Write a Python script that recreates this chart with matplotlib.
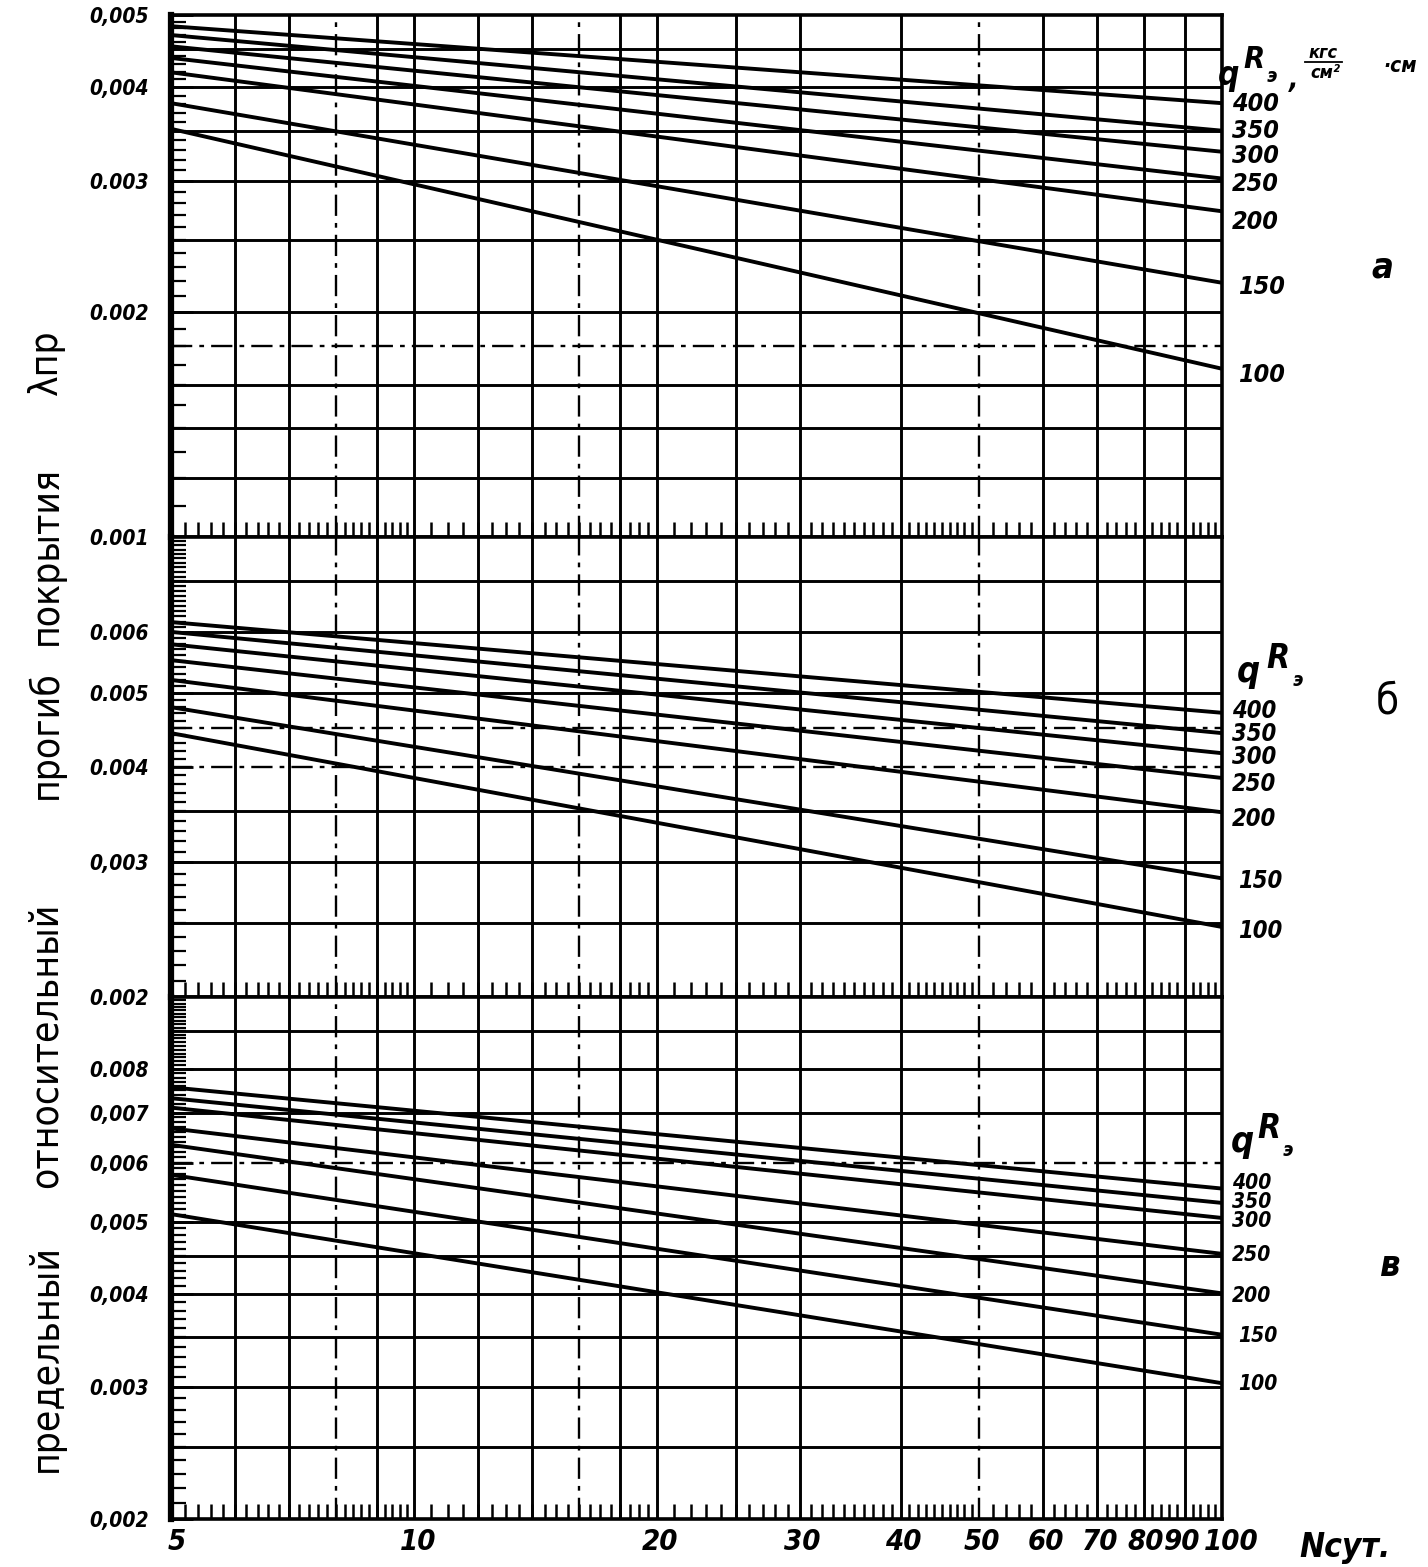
import os
import matplotlib
matplotlib.use('Agg')
import matplotlib.pyplot as plt
import matplotlib.font_manager as fm
import matplotlib.transforms as mtransforms
import numpy as np
from matplotlib.ticker import FixedLocator, NullFormatter

plt.rcParams['font.family'] = ['DejaVu Sans']

# ---------------- data ----------------
N_ends = [5, 100]                      # N сут. (x range of each line)
qR = [100, 150, 200, 250, 300, 350, 400]

# panel а : λпр at N=5 and N=100
lam_a_5   = [0.00352, 0.00381, 0.00419, 0.00438, 0.00454, 0.00470, 0.00483]
lam_a_100 = [0.00168, 0.00219, 0.00273, 0.00302, 0.00328, 0.00350, 0.00381]
# panel б
lam_b_5   = [0.00443, 0.00479, 0.00520, 0.00552, 0.00579, 0.00601, 0.00619]
lam_b_100 = [0.00247, 0.00286, 0.00349, 0.00387, 0.00417, 0.00443, 0.00471]
# panel в
lam_c_5   = [0.00512, 0.00578, 0.00634, 0.00667, 0.00711, 0.00732, 0.00757]
lam_c_100 = [0.00304, 0.00353, 0.00401, 0.00453, 0.00506, 0.00530, 0.00554]

# pixel y of the right-hand qR labels (reference positions)
lab_y_a = [375, 287, 222, 184, 156, 131, 104]
lab_y_b = [931, 881, 819, 784, 757, 734, 711]
lab_y_c = [1384, 1336, 1296, 1255, 1221, 1202, 1183]

x_tick_vals = [5, 10, 20, 30, 40, 50, 60, 70, 80, 90, 100]
x_tick_labels = ['5', '10', '20', '30', '40', '50', '60', '70', '80', '90', '100']
x_label_nudge = [6, 4, 3, 3, 3, 3, 3, 3, 2, -3, 9]      # pixels, as lettered in the original
x_grid = [6, 7, 8, 9, 10, 12, 14, 16, 18, 20, 25, 30, 40, 50, 60, 70, 80, 90]
x_grid_dashed = [8, 16, 50]

ylim_a = (0.001, 0.005)
ylim_b = (0.002, 0.008)
ylim_c = (0.002, 0.010)

y_ticks_a = [0.001, 0.002, 0.003, 0.004, 0.005]
y_labels_a = ['0.001', '0.002', '0.003', '0,004', '0,005']
y_ticks_b = [0.002, 0.003, 0.004, 0.005, 0.006]
y_labels_b = ['0.002', '0,003', '0.004', '0.005', '0.006']
y_ticks_c = [0.002, 0.003, 0.004, 0.005, 0.006, 0.007, 0.008]
y_labels_c = ['0,002', '0.003', '0,004', '0,005', '0,006', '0,007', '0.008']

y_grid_a = [0.0012, 0.0014, 0.0016, 0.0018, 0.002, 0.0025, 0.003, 0.0035, 0.004, 0.0045]
y_grid_a_dashed = [0.0018]
y_grid_b = [0.0025, 0.003, 0.0035, 0.004, 0.0045, 0.005, 0.006, 0.007]
y_grid_b_dashed = [0.004, 0.0045]
y_grid_c = [0.0025, 0.003, 0.0035, 0.004, 0.0045, 0.005, 0.006, 0.007, 0.008, 0.009]
y_grid_c_dashed = [0.006]

panel_letters = ['а', 'б', 'в']

# ---------------- fonts (prefer a condensed face, like the hand lettering) ----------------
_files = {}
for f in fm.fontManager.ttflist:
    _files.setdefault(os.path.basename(f.fname), f.fname)


def find_font(cands, subs):
    for c in cands:
        if c in _files:
            return _files[c]
    for name, path in sorted(_files.items()):
        low = name.lower()
        if all(s in low for s in subs[0]) and any(s in low for s in subs[1]):
            return path
    return None


bi_path = find_font(['LiberationSansNarrow-BoldItalic.ttf', 'NotoSans-CondensedBoldItalic.ttf',
                     'DejaVuSansCondensed-BoldOblique.ttf', 'RobotoCondensed-BoldItalic.ttf'],
                    (['bold'], ['condensed', 'narrow']))
rg_path = find_font(['LiberationSansNarrow-Regular.ttf', 'NotoSans-Condensed.ttf',
                     'DejaVuSansCondensed.ttf', 'RobotoCondensed-Regular.ttf'],
                    ([], ['condensed', 'narrow']))
COND = bi_path is not None


def FP_bi(size):
    if bi_path:
        return fm.FontProperties(fname=bi_path, size=size)
    return fm.FontProperties(family='DejaVu Sans', weight='bold', style='italic', size=size * 0.8)


def FP_rg(size):
    if rg_path:
        return fm.FontProperties(fname=rg_path, size=size)
    return fm.FontProperties(family='DejaVu Sans', size=size * 0.85)


# ---------------- figure ----------------
W, H = 1428, 1567
fig = plt.figure(figsize=(W / 100, H / 100), dpi=100)

XL, XR = 171, 1222


def px_axes(top, bottom):
    return [XL / W, 1 - bottom / H, (XR - XL) / W, (bottom - top) / H]


def ftxt(x, y, s, fp, **kw):
    fig.text(x / W, 1 - y / H, s, fontproperties=fp, **kw)


x_minor = list(np.arange(5, 10, 0.2)) + list(np.arange(10, 20, 0.5)) + \
    list(np.arange(20, 50, 1.0)) + list(np.arange(50, 100.01, 2.0))

LW = 2.8
GW = 2.1
dash = (0, (9, 3, 2, 3))

panels = [
    (15, 537, ylim_a, lam_a_5, lam_a_100, y_ticks_a, y_labels_a, y_grid_a, y_grid_a_dashed, lab_y_a, 18),
    (537, 997, ylim_b, lam_b_5, lam_b_100, y_ticks_b, y_labels_b, y_grid_b, y_grid_b_dashed, lab_y_b, 17),
    (997, 1519, ylim_c, lam_c_5, lam_c_100, y_ticks_c, y_labels_c, y_grid_c, y_grid_c_dashed, lab_y_c, 15),
]

for i, (top, bot, ylim, l5, l100, yt, yl, yg, ygd, laby, lsz) in enumerate(panels):
    ax = fig.add_axes(px_axes(top, bot))
    ax.set_xscale('log')
    ax.set_yscale('log')
    ax.set_xlim(5, 100)
    ax.set_ylim(*ylim)

    for v in x_grid:
        if v in x_grid_dashed:
            ax.axvline(v, color='k', lw=1.7, ls=dash, zorder=1)
        else:
            ax.axvline(v, color='k', lw=GW, zorder=1)
    for h in yg:
        if h in ygd:
            ax.axhline(h, color='k', lw=1.7, ls=dash, zorder=1)
        else:
            ax.axhline(h, color='k', lw=GW, zorder=1)

    for q, a, b, ly in zip(qR, l5, l100, laby):
        ax.plot(N_ends, [a, b], color='k', lw=LW, solid_capstyle='butt', zorder=3)
        ftxt(1232 + (6 if q in (100, 150) else 0), ly, str(q), FP_bi(lsz), ha='left', va='center')

    # x ticks
    ax.set_xticks(x_tick_vals)
    ax.set_xticklabels([])
    ax.xaxis.set_minor_locator(FixedLocator(x_minor))
    ax.xaxis.set_minor_formatter(NullFormatter())
    ax.tick_params(axis='x', which='major', length=0)
    ax.tick_params(axis='x', which='minor', direction='in', length=11, width=1.8, top=False)
    if i == 2:
        base = mtransforms.blended_transform_factory(ax.transData, ax.transAxes)
        for v, s, dx in zip(x_tick_vals, x_tick_labels, x_label_nudge):
            tr = base + mtransforms.ScaledTranslation(dx / 100, -9 / 100, fig.dpi_scale_trans)
            ax.text(v, 0, s, transform=tr, ha='center', va='top',
                    fontproperties=FP_bi(21 if COND else 16), clip_on=False)

    # y ticks
    ax.set_yticks(yt)
    ax.set_yticklabels(yl, fontproperties=FP_bi(15))
    y_minor = list(np.arange(ylim[0], ylim[1] + 1e-9, 0.0001))
    ax.yaxis.set_minor_locator(FixedLocator(y_minor))
    ax.yaxis.set_minor_formatter(NullFormatter())
    ax.tick_params(axis='y', which='major', direction='in', length=16, width=2, pad=16)
    ax.tick_params(axis='y', which='minor', direction='in', length=11, width=1.6)

    for s in ['top', 'bottom', 'right']:
        ax.spines[s].set_linewidth(2.6)
    ax.spines['left'].set_linewidth(4.5)

# headers qRэ
ftxt(1229, 75, 'q', FP_bi(24), va='center', ha='center')
ftxt(1254, 60, 'R', FP_bi(22), va='center', ha='center')
ftxt(1272, 77, 'э', FP_bi(14), va='center', ha='center')
ftxt(1294, 80, ',', FP_bi(20), va='center', ha='center')
ftxt(1323, 53, 'кгс', FP_bi(13), va='center', ha='center')
fig.add_artist(plt.Line2D([1305 / W, 1342 / W], [1 - 62 / H, 1 - 62 / H], color='k', lw=1.3))
ftxt(1325, 73, 'см²', FP_bi(13), va='center', ha='center')
ftxt(1400, 66, '·см', FP_bi(15), va='center', ha='center')

ftxt(1248, 672, 'q', FP_bi(26), va='center', ha='center')
ftxt(1278, 658, 'R', FP_bi(24), va='center', ha='center')
ftxt(1298, 680, 'э', FP_bi(14), va='center', ha='center')

ftxt(1242, 1142, 'q', FP_bi(26), va='center', ha='center')
ftxt(1269, 1128, 'R', FP_bi(24), va='center', ha='center')
ftxt(1288, 1151, 'э', FP_bi(14), va='center', ha='center')

# panel letters
ftxt(1382, 268, panel_letters[0], FP_bi(26), va='center', ha='center')
ftxt(1387, 702, panel_letters[1], FP_rg(30), va='center', ha='center')
ftxt(1390, 1266, panel_letters[2], FP_bi(26), va='center', ha='center')

# x-axis name
ftxt(1345, 1547, 'Nсут.', FP_bi(24), va='center', ha='center')

# vertical y label (words spaced as in original)
ylab_words = [('предельный', 1358), ('относительный', 1045), ('прогиб', 735),
              ('покрытия', 555), ('λпр', 362)]
for w, yc in ylab_words:
    ftxt(46, yc, w, FP_rg(28), rotation=90, va='center', ha='center')

fig.savefig('out.png', dpi=100, facecolor='white')
